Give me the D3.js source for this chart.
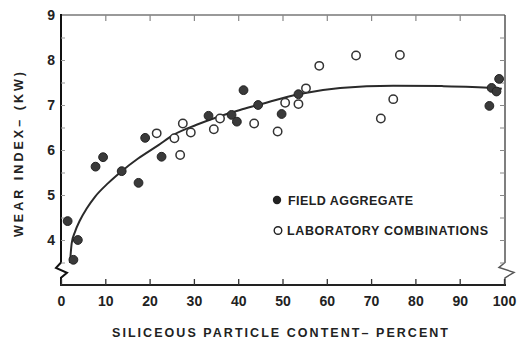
<!DOCTYPE html>
<html>
<head>
<meta charset="utf-8">
<script src="https://cdn.jsdelivr.net/npm/d3@7"></script>
<style>
  html, body { margin: 0; padding: 0; background: #ffffff; }
  svg { display: block; }
  text { font-family: "Liberation Sans", Arial, Helvetica, sans-serif; fill: #222; }
</style>
</head>
<body>
<svg id="chart" width="524" height="339"></svg>
<script>
// ---- data ----
const xTicks = [0, 10, 20, 30, 40, 50, 60, 70, 80, 90, 100];
const xTickLabels = ["0", "10", "20", "30", "40", "50", "60", "70", "80", "90", "100"];
const yTicks = [4, 5, 6, 7, 8, 9];
const yTickLabels = ["4", "5", "6", "7", "8", "9"];
const yMinorTicks = [3.5, 4, 4.5, 5, 5.5, 6, 6.5, 7, 7.5, 8, 8.5];

const fieldX = [1.5, 2.8, 3.8, 7.8, 9.5, 13.7, 17.5, 19.0, 22.7, 33.3, 38.5, 39.7, 41.2, 44.5, 49.8, 53.6, 96.7, 97.2, 98.3, 98.9];
const fieldY = [4.42, 3.56, 4.0, 5.63, 5.84, 5.53, 5.27, 6.27, 5.85, 6.76, 6.78, 6.63, 7.33, 7.0, 6.8, 7.24, 6.98, 7.38, 7.3, 7.58];

const labX = [21.6, 25.6, 26.9, 27.5, 29.3, 34.5, 35.9, 43.6, 48.9, 50.6, 53.6, 55.3, 58.3, 66.6, 72.2, 75.0, 76.5];
const labY = [6.37, 6.26, 5.89, 6.59, 6.39, 6.46, 6.7, 6.59, 6.41, 7.05, 7.02, 7.37, 7.87, 8.1, 6.7, 7.13, 8.11];

const curveX = [2.03, 2.42, 3.16, 4.29, 5.8, 7.67, 10.7, 13.7, 17.4, 22, 25.3, 30.6, 40.4, 44.5, 53.5, 63, 75, 86, 97.5, 99.5];
const curveY = [3.49, 3.93, 4.18, 4.44, 4.7, 4.96, 5.27, 5.53, 5.81, 6.11, 6.33, 6.56, 6.89, 7.0, 7.24, 7.38, 7.43, 7.42, 7.38, 7.36];

const legendLabels = ["FIELD AGGREGATE", "LABORATORY COMBINATIONS"];
const xTitle = "SILICEOUS PARTICLE CONTENT\u2013 PERCENT";
const yTitle = "WEAR INDEX\u2013 (KW)";

// ---- layout ----
const L = 61, R = 504, T = 15, B = 285;
const x = d3.scaleLinear().domain([0, 100]).range([L, R]);
const y = d3.scaleLinear().domain([3, 9]).range([B, T]);

const svg = d3.select("#chart");

// frame: top (thin, grey)
svg.append("line").attr("x1", L).attr("x2", R + 1).attr("y1", T).attr("y2", T)
  .attr("stroke", "#777").attr("stroke-width", 1.5);
// right axis with break
svg.append("path")
  .attr("d", `M${R + 1},${T} L${R + 1},${y(3.5)} L${R - 5},${y(3.39)} L${R + 10},${y(3.28)} L${R + 1},${y(3.16)} L${R + 1},${B}`)
  .attr("fill", "none").attr("stroke", "#555").attr("stroke-width", 1.5);
// left axis with break
svg.append("path")
  .attr("d", `M${L},${T - 1} L${L},${y(3.5)} L${L - 5},${y(3.38)} L${L + 6},${y(3.27)} L${L},${y(3.16)} L${L},${B}`)
  .attr("fill", "none").attr("stroke", "#111").attr("stroke-width", 2);
// bottom axis line
svg.append("line").attr("x1", L - 1).attr("x2", R + 2).attr("y1", B).attr("y2", B)
  .attr("stroke", "#222").attr("stroke-width", 2);

// bottom axis ticks and labels
const xAxis = d3.axisBottom(x).tickValues(xTicks)
  .tickFormat((d, i) => xTickLabels[i]).tickSize(-6).tickPadding(11);
const gx = svg.append("g").attr("transform", `translate(0,${B})`).call(xAxis);
gx.select(".domain").remove();
gx.selectAll(".tick line").attr("stroke", "#333").attr("stroke-width", 1.3);
gx.selectAll(".tick text").attr("font-size", 14).attr("font-weight", "bold")
  .attr("fill", "#222").attr("font-family", "Liberation Sans, Arial, sans-serif");

// top ticks
const xTop = d3.axisTop(x).tickValues(xTicks.slice(1, -1)).tickSize(-6).tickFormat("");
const gt = svg.append("g").attr("transform", `translate(0,${T})`).call(xTop);
gt.select(".domain").remove();
gt.selectAll(".tick line").attr("stroke", "#888").attr("stroke-width", 1.2);

// left axis labels
const yAxis = d3.axisLeft(y).tickValues(yTicks)
  .tickFormat((d, i) => yTickLabels[i]).tickSize(0).tickPadding(6);
const gy = svg.append("g").attr("transform", `translate(${L},0)`).call(yAxis);
gy.select(".domain").remove();
gy.selectAll(".tick text").attr("font-size", 14).attr("font-weight", "bold")
  .attr("fill", "#222").attr("font-family", "Liberation Sans, Arial, sans-serif");

// left minor ticks (inside)
const yMinor = d3.axisRight(y).tickValues(yMinorTicks).tickSize(4).tickFormat("");
const gyl = svg.append("g").attr("transform", `translate(${L},0)`).call(yMinor);
gyl.select(".domain").remove();
gyl.selectAll(".tick line").attr("stroke", "#999").attr("stroke-width", 1);

// right ticks (inside)
const yRight = d3.axisLeft(y).tickValues(yMinorTicks).tickSize(5).tickFormat("");
const gyr = svg.append("g").attr("transform", `translate(${R + 1},0)`).call(yRight);
gyr.select(".domain").remove();
gyr.selectAll(".tick line").attr("stroke", "#888").attr("stroke-width", 1);

// fitted curve
const curveData = curveX.map((d, i) => [d, curveY[i]]);
const line = d3.line().x(d => x(d[0])).y(d => y(d[1])).curve(d3.curveMonotoneX);
svg.append("path").datum(curveData).attr("d", line)
  .attr("fill", "none").attr("stroke", "#2a2a2a").attr("stroke-width", 2);

// field aggregate (filled)
const field = fieldX.map((d, i) => [d, fieldY[i]]);
svg.append("g").selectAll("circle").data(field).join("circle")
  .attr("cx", d => x(d[0])).attr("cy", d => y(d[1])).attr("r", 4.4)
  .attr("fill", "#3a3a3a").attr("stroke", "#222").attr("stroke-width", 1);

// laboratory combinations (open)
const lab = labX.map((d, i) => [d, labY[i]]);
svg.append("g").selectAll("circle").data(lab).join("circle")
  .attr("cx", d => x(d[0])).attr("cy", d => y(d[1])).attr("r", 4.2)
  .attr("fill", "#fff").attr("stroke", "#333").attr("stroke-width", 1.5);

// legend
const lg = svg.append("g");
lg.append("circle").attr("cx", 277).attr("cy", 200).attr("r", 4.2).attr("fill", "#222");
lg.append("circle").attr("cx", 278).attr("cy", 230.5).attr("r", 3.8)
  .attr("fill", "#fff").attr("stroke", "#222").attr("stroke-width", 1.4);
lg.append("text").attr("x", 288).attr("y", 204.5).attr("font-size", 12.5).attr("font-weight", "bold")
  .attr("textLength", 125).attr("lengthAdjust", "spacing").text(legendLabels[0]);
lg.append("text").attr("x", 287).attr("y", 235).attr("font-size", 12.5).attr("font-weight", "bold")
  .attr("textLength", 201).attr("lengthAdjust", "spacing").text(legendLabels[1]);

// axis titles
svg.append("text").attr("x", 112).attr("y", 336.5).attr("font-size", 12.5).attr("font-weight", "bold")
  .attr("textLength", 336).attr("lengthAdjust", "spacing").text(xTitle);
svg.append("text").attr("transform", "translate(23,237) rotate(-90)")
  .attr("font-size", 12.5).attr("font-weight", "bold")
  .attr("textLength", 165).attr("lengthAdjust", "spacing").text(yTitle);
</script>
</body>
</html>
